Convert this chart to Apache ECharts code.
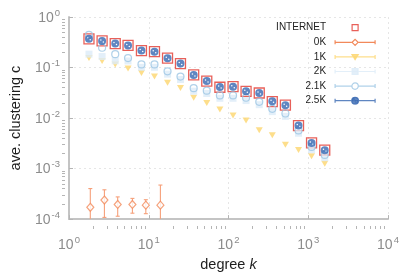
<!DOCTYPE html>
<html><head><meta charset="utf-8">
<script src="https://cdn.jsdelivr.net/npm/echarts@6/dist/echarts.min.js"></script>
<style>html,body{margin:0;padding:0;background:#fff}#c{width:415px;height:277px}</style>
</head><body><div id="c"></div>
<script>
// ---- data ----
const degree = [1.78, 2.6, 3.8, 5.5, 8.1, 11.8, 17.2, 25, 36.6, 53.4, 78, 114, 166, 243, 354, 517, 755, 1100, 1610];
const internet = [0.368, 0.337, 0.296, 0.275, 0.216, 0.207, 0.154, 0.119, 0.0716, 0.0537, 0.0407, 0.042, 0.0338, 0.0313, 0.0212, 0.0181, 0.00706, 0.00323, 0.00231];
const k25 = [0.37, 0.335, 0.298, 0.273, 0.218, 0.205, 0.153, 0.12, 0.071, 0.054, 0.041, 0.0418, 0.034, 0.0312, 0.0214, 0.018, 0.0071, 0.0032, 0.0023];
const k21 = [0.444, 0.246, 0.184, 0.154, 0.115, 0.115, 0.084, 0.0662, 0.039, 0.0348, 0.028, 0.028, 0.0252, 0.0209, 0.0152, 0.0123, 0.00569, 0.00268, 0.00186];
const k2 = [0.184, 0.165, 0.136, 0.135, 0.101, 0.101, 0.074, 0.058, 0.034, 0.0306, 0.0246, 0.0246, 0.0222, 0.0184, 0.0134, 0.0108, 0.005, 0.00236, 0.00164];
const k1 = [0.154, 0.134, 0.115, 0.0957, 0.078, 0.0662, 0.0499, 0.0393, 0.0252, 0.0198, 0.0148, 0.01125, 0.0089, 0.00575, 0.00457, 0.00295, 0.00233, 0.00175, 0.00124];
const degree0 = [1.85, 2.78, 4.08, 6.24, 9.19, 14.0];
const k0 = [1.71e-4, 2.38e-4, 1.95e-4, 1.95e-4, 1.89e-4, 1.89e-4];
const k0Hi = [4.02e-4, 3.8e-4, 2.75e-4, 2.57e-4, 2.42e-4, 4.72e-4];
const k0Lo = [0.8e-4, 1.08e-4, 1.14e-4, 1.31e-4, 1.28e-4, 0.8e-4];
const xMinor = [2,3,4,5,6,7,8,9,20,30,40,50,60,70,80,90,200,300,400,500,600,700,800,900,2000,3000,4000,5000,6000,7000,8000,9000];
const yMinor = [2e-4,3e-4,4e-4,5e-4,6e-4,7e-4,8e-4,9e-4,2e-3,3e-3,4e-3,5e-3,6e-3,7e-3,8e-3,9e-3,0.02,0.03,0.04,0.05,0.06,0.07,0.08,0.09,0.2,0.3,0.4,0.5,0.6,0.7,0.8,0.9];
const seriesNames = ['INTERNET', '0K', '1K', '2K', '2.1K', '2.5K'];

// ---- style ----
const FONT = '"Liberation Sans", Arial, Helvetica, sans-serif';
const C = {inet:'#e2382f', k0:'#f2895a', k0bar:'#f6a07a', k1:'#fdd66e', k2:'#dcebf7', k21:'#9cc6e3', k25:'#3768b1'};
const labelColor = '#8c8c8c';
const rich = {
  b:{fontSize:14, color:labelColor, fontFamily:FONT, verticalAlign:'bottom', lineHeight:16},
  s:{fontSize:9.5, color:labelColor, fontFamily:FONT, verticalAlign:'bottom', lineHeight:11, padding:[0,0,7,1]}
};
function sup(v){ return '{b|10}{s|' + Math.round(Math.log10(v)) + '}'; }
const axisLine = {show:true, onZero:false, lineStyle:{color:'#c4c4c4', width:2}};
const split = {show:true, lineStyle:{color:'#e6e6e6', type:[2,3], width:1}};
const tickLine = {color:'#b5b5b5', width:1};
const nameStyle = {fontSize:14.5, color:'#1e1e1e', fontFamily:FONT};
const circHoles = 'path://M0,4A4,4 0 1,1 8,4A4,4 0 1,1 0,4Z M2,3A0.75,0.75 0 1,0 3.5,3A0.75,0.75 0 1,0 2,3Z M4.5,5A0.75,0.75 0 1,0 6,5A0.75,0.75 0 1,0 4.5,5Z';

const PAD = 'M0,0M40,8';
const LINE = 'M0,2L0,6M0,4L16.5,4M23.5,4L40,4M40,2L40,6';
const icons = {
  'INTERNET': 'path://' + PAD + 'M17,1L23,1L23,7L17,7Z',
  '0K': 'path://' + PAD + LINE + 'M20,1L23,4L20,7L17,4Z',
  '1K': 'path://' + PAD + 'M0,2L0,6M0,4L40,4M40,2L40,6M16.8,1.6L23.2,1.6L20,6.8Z',
  '2K': 'path://' + PAD + 'M0,2L0,6M0,4L40,4M40,2L40,6M17,1L23,1L23,7L17,7Z',
  '2.1K': 'path://' + PAD + LINE + 'M16.8,4A3.2,3.2 0 1,1 23.2,4A3.2,3.2 0 1,1 16.8,4Z',
  '2.5K': 'path://' + PAD + 'M0,2L0,6M0,4L40,4M40,2L40,6M16.6,4A3.4,3.4 0 1,1 23.4,4A3.4,3.4 0 1,1 16.6,4Z M18.2,3.2A0.7,0.7 0 1,0 19.6,3.2A0.7,0.7 0 1,0 18.2,3.2Z M20.4,4.8A0.7,0.7 0 1,0 21.8,4.8A0.7,0.7 0 1,0 20.4,4.8Z'
};
const legendStyles = {
  'INTERNET': {color:'rgba(0,0,0,0)', borderColor:C.inet, borderWidth:1.2},
  '0K': {color:'#fff', borderColor:C.k0, borderWidth:1.2},
  '1K': {color:C.k1, borderColor:C.k1, borderWidth:1.2},
  '2K': {color:C.k2, borderColor:C.k2, borderWidth:1.2},
  '2.1K': {color:'#fff', borderColor:C.k21, borderWidth:1.2},
  '2.5K': {color:C.k25, borderColor:C.k25, borderWidth:1.2}
};

const zip = (xs, ys) => xs.map((x, i) => [x, ys[i]]);

const option = {
  animation:false,
  backgroundColor:'#fff',
  grid:{left:62, right:27, top:17, bottom:48},
  legend:{
    orient:'vertical', right:39.3, top:20.7, padding:0, align:'right',
    itemWidth:48, itemHeight:8, itemGap:0.6, selectedMode:false,
    textStyle:{fontSize:10, color:'#222', fontFamily:FONT, lineHeight:14},
    data: seriesNames.map(n => ({name:n, icon:icons[n], itemStyle:legendStyles[n]}))
  },
  xAxis:[{
    type:'log', logBase:10, min:1, max:10000, position:'bottom',
    axisLine, splitLine:split,
    axisTick:{show:true, inside:true, length:4, lineStyle:tickLine},
    axisLabel:{formatter:sup, rich, margin:17},
    name:'{n|degree }{i|k}', nameLocation:'middle', nameGap:32,
    nameTextStyle:{rich:{n:nameStyle, i:Object.assign({fontStyle:'italic'}, nameStyle)}}
  }, {
    type:'log', logBase:10, min:1, max:10000, position:'top', offset:-212,
    axisLine:{show:false}, splitLine:{show:false}, axisLabel:{show:false},
    axisTick:{show:true, inside:false, length:3, lineStyle:tickLine, customValues:xMinor}
  }],
  yAxis:[{
    type:'log', logBase:10, min:1e-4, max:1, position:'left',
    axisLine, splitLine:split,
    axisTick:{show:true, inside:true, length:4, lineStyle:tickLine},
    axisLabel:{formatter:sup, rich, margin:9},
    name:'ave. clustering c', nameLocation:'middle', nameGap:46, nameRotate:90,
    nameTextStyle:nameStyle
  }, {
    type:'log', logBase:10, min:1e-4, max:1, position:'right', offset:-326,
    axisLine:{show:false}, splitLine:{show:false}, axisLabel:{show:false},
    axisTick:{show:true, inside:false, length:3, lineStyle:tickLine, customValues:yMinor}
  }],
  series:[
    {name:'INTERNET', type:'scatter', data:zip(degree, internet), symbol:'rect', symbolSize:10,
     itemStyle:{color:'rgba(0,0,0,0)', borderColor:C.inet, borderWidth:1.3}, z:2},
    {name:'0K', type:'custom', clip:true, data:degree0.map((x, i) => [x, k0Lo[i], k0Hi[i]]),
     encode:{x:0, y:[1,2]}, z:3,
     renderItem:function(params, api){
       const hi = api.coord([api.value(0), api.value(2)]);
       const lo = api.coord([api.value(0), api.value(1)]);
       const st = {stroke:C.k0bar, lineWidth:1.1};
       return {type:'group', children:[
         {type:'line', shape:{x1:hi[0], y1:hi[1], x2:lo[0], y2:lo[1]}, style:st},
         {type:'line', shape:{x1:hi[0]-2, y1:hi[1], x2:hi[0]+2, y2:hi[1]}, style:st},
         {type:'line', shape:{x1:lo[0]-2, y1:lo[1], x2:lo[0]+2, y2:lo[1]}, style:st}
       ]};
     }},
    {name:'0K', type:'scatter', data:zip(degree0, k0), symbol:'diamond', symbolSize:[7,8],
     itemStyle:{color:'#fff', borderColor:C.k0, borderWidth:1.2}, z:4},
    {name:'1K', type:'scatter', data:zip(degree, k1), symbol:'triangle', symbolRotate:180, symbolSize:[7,6],
     itemStyle:{color:C.k1}, z:3},
    {name:'2K', type:'scatter', data:zip(degree, k2), symbol:'rect', symbolSize:7,
     itemStyle:{color:C.k2}, z:3},
    {name:'2.1K', type:'scatter', data:zip(degree, k21), symbol:'circle', symbolSize:7,
     itemStyle:{color:'rgba(0,0,0,0)', borderColor:C.k21, borderWidth:1.2}, z:4},
    {name:'2.5K', type:'scatter', data:zip(degree, k25), symbol:circHoles, symbolSize:8,
     itemStyle:{color:C.k25}, z:5}
  ]
};
const chart = echarts.init(document.getElementById('c'), null, {renderer:'canvas'});
chart.setOption(option);
</script>
</body></html>
